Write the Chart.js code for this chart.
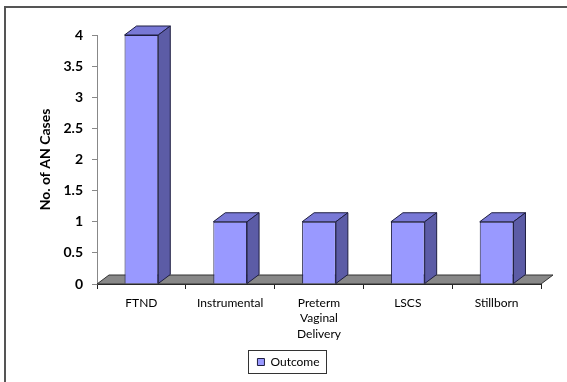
<!DOCTYPE html>
<html>
<head>
<meta charset="utf-8">
<script src="https://cdn.jsdelivr.net/npm/chart.js@4/dist/chart.umd.min.js"></script>
<style>
  html, body { margin: 0; padding: 0; background: #fff; }
  #wrap { width: 567px; height: 382px; position: relative; }
</style>
</head>
<body>
<div id="wrap"><canvas id="c" width="567" height="382"></canvas></div>
<script>
// Delivery outcome categories and case counts
const categories = ['FTND', 'Instrumental', ['Preterm', 'Vaginal', 'Delivery'], 'LSCS', 'Stillborn'];
const seriesName = 'Outcome';
const outcomeCases = [4, 1, 1, 1, 1];
const yTickValues = [0, 0.5, 1, 1.5, 2, 2.5, 3, 3.5, 4];
const yTickLabels = ['0', '0.5', '1', '1.5', '2', '2.5', '3', '3.5', '4'];
const yTitle = 'No. of AN Cases';

// depth offset of the pseudo-3D extrusion
const DEPTH_X = 12;
const DEPTH_Y = 9;

const FRONT = '#9999FF';
const TOP = '#7878D6';
const SIDE = '#5C5CA6';
const EDGE = '#1E1E40';

const frame3d = {
  id: 'frame3d',
  beforeDraw(chart) {
    const ctx = chart.ctx;
    ctx.save();
    ctx.fillStyle = '#fff';
    ctx.fillRect(0, 0, chart.width, chart.height);
    // outer frame
    ctx.strokeStyle = '#555';
    ctx.lineWidth = 2;
    ctx.strokeRect(5, 7, chart.width + 10, chart.height + 10);
    ctx.restore();
  },
  beforeDatasetsDraw(chart) {
    // grey floor under the bars
    const { ctx, chartArea: a } = chart;
    ctx.save();
    ctx.beginPath();
    ctx.moveTo(a.left, a.bottom);
    ctx.lineTo(a.right, a.bottom);
    ctx.lineTo(a.right + DEPTH_X, a.bottom - DEPTH_Y);
    ctx.lineTo(a.left + DEPTH_X, a.bottom - DEPTH_Y);
    ctx.closePath();
    ctx.fillStyle = '#888888';
    ctx.fill();
    ctx.strokeStyle = '#333';
    ctx.lineWidth = 1;
    ctx.stroke();
    ctx.restore();
  },
  afterDatasetsDraw(chart) {
    // top and side faces for each bar
    const ctx = chart.ctx;
    const meta = chart.getDatasetMeta(0);
    ctx.save();
    ctx.strokeStyle = EDGE;
    ctx.lineWidth = 1;
    ctx.lineJoin = 'round';
    meta.data.forEach(bar => {
      const { x, y, width, base } = bar.getProps(['x', 'y', 'width', 'base'], true);
      const l = x - width / 2, r = x + width / 2;
      ctx.beginPath();
      ctx.moveTo(l, y);
      ctx.lineTo(l + DEPTH_X, y - DEPTH_Y);
      ctx.lineTo(r + DEPTH_X, y - DEPTH_Y);
      ctx.lineTo(r, y);
      ctx.closePath();
      ctx.fillStyle = TOP;
      ctx.fill();
      ctx.stroke();
      ctx.beginPath();
      ctx.moveTo(r, y);
      ctx.lineTo(r + DEPTH_X, y - DEPTH_Y);
      ctx.lineTo(r + DEPTH_X, base - DEPTH_Y);
      ctx.lineTo(r, base);
      ctx.closePath();
      ctx.fillStyle = SIDE;
      ctx.fill();
      ctx.stroke();
    });
    ctx.restore();
  },
  afterDraw(chart) {
    // framed legend
    const lg = chart.legend;
    if (!lg || !lg.legendHitBoxes || !lg.legendHitBoxes.length) return;
    const hb = lg.legendHitBoxes[0];
    const ctx = chart.ctx;
    ctx.save();
    ctx.strokeStyle = '#333';
    ctx.lineWidth = 1;
    ctx.strokeRect(Math.round(hb.left - 9) + 0.5, Math.round(hb.top - 6) + 0.5,
                   Math.round(hb.width + 16), Math.round(hb.height + 11));
    ctx.restore();
  }
};

new Chart(document.getElementById('c'), {
  type: 'bar',
  plugins: [frame3d],
  data: {
    labels: categories,
    datasets: [{
      label: seriesName,
      data: outcomeCases,
      backgroundColor: FRONT,
      borderColor: EDGE,
      borderWidth: 1,
      categoryPercentage: 1,
      barPercentage: 0.38
    }]
  },
  options: {
    responsive: false,
    animation: false,
    layout: { padding: { left: 36, top: 35, right: 26, bottom: 4 } },
    plugins: {
      tooltip: { enabled: false },
      legend: {
        position: 'bottom',
        labels: {
          boxWidth: 7,
          boxHeight: 7,
          padding: 5,
          color: '#000',
          font: { family: 'Lato', size: 12 }
        }
      }
    },
    scales: {
      x: {
        afterFit(s) { s.height = 67; },
        grid: { drawOnChartArea: false, tickLength: 5, color: '#222', offset: true },
        border: { color: '#222', width: 1 },
        ticks: {
          color: '#000',
          padding: 6,
          maxRotation: 0,
          autoSkip: false,
          font: { family: 'Lato', size: 12, lineHeight: 1.3 }
        }
      },
      y: {
        min: 0,
        max: 4,
        afterFit(s) { s.width = 61; },
        afterBuildTicks(s) { s.ticks = yTickValues.map(v => ({ value: v })); },
        grid: { drawOnChartArea: false, tickLength: 5, color: '#888' },
        border: { color: '#888', width: 1 },
        ticks: {
          color: '#000',
          padding: 9,
          callback: (v) => yTickLabels[yTickValues.indexOf(v)],
          font: { family: 'Lato', size: 14, weight: 'bold' }
        },
        title: {
          display: true,
          text: yTitle,
          color: '#000',
          padding: { top: 1, bottom: 0 },
          font: { family: 'Lato', size: 14, weight: 'bold' }
        }
      }
    }
  }
});
</script>
</body>
</html>
